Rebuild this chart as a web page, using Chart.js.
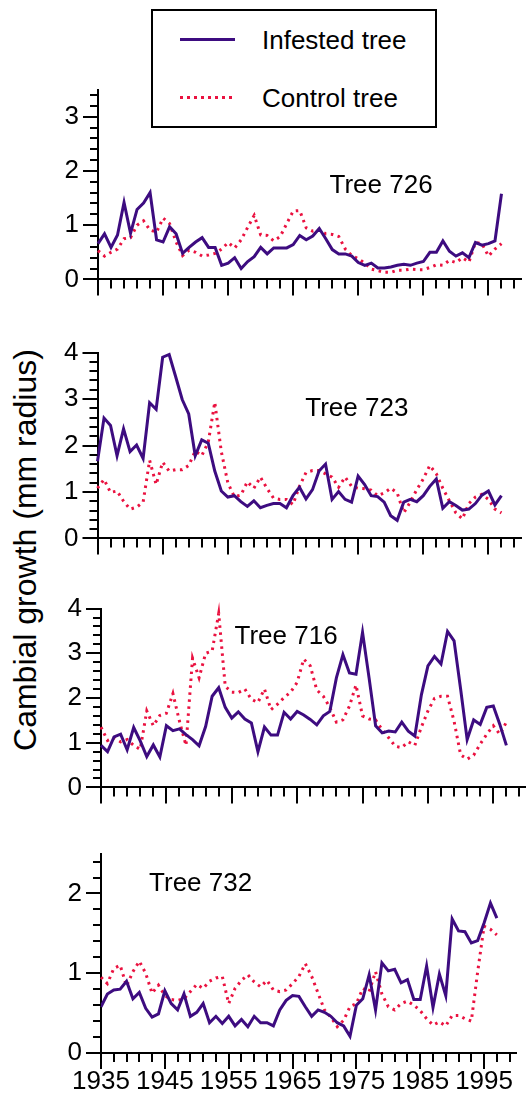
<!DOCTYPE html>
<html>
<head>
<meta charset="utf-8">
<script src="https://cdn.jsdelivr.net/npm/chart.js@4.4.1/dist/chart.umd.min.js"></script>
<style>
body { margin: 0; background: #fff; }
#wrap { position: relative; width: 526px; height: 1102px; overflow: hidden; font-family: "Liberation Sans", Arial, sans-serif; color: #000; }
canvas { position: absolute; left: 0; }
#legend { position: absolute; left: 151px; top: 9px; width: 286px; height: 119px; box-sizing: border-box; border: 2px solid #000; }
#legend .txt { position: absolute; left: 109px; font-size: 26px; line-height: 30px; white-space: nowrap; }
#legend .solid { position: absolute; left: 27px; width: 55px; height: 3px; background: #3d0c80; }
#legend .dots { position: absolute; left: 27px; width: 52px; height: 3px; background: repeating-linear-gradient(to right, #ea1240 0 3px, transparent 3px 7px); }
#ytitle { position: absolute; left: 25px; top: 550px; transform: translate(-50%, -50%) rotate(-90deg); white-space: nowrap; font-size: 32px; line-height: 36px; }
</style>
</head>
<body>
<div id="wrap">
  <div id="legend">
    <div class="solid" style="top:27px"></div>
    <div class="txt" style="top:14px">Infested tree</div>
    <div class="dots" style="top:85px"></div>
    <div class="txt" style="top:72px">Control tree</div>
  </div>
  <div id="ytitle">Cambial growth (mm radius)</div>
  <canvas id="p726"></canvas>
  <canvas id="p723"></canvas>
  <canvas id="p716"></canvas>
  <canvas id="p732"></canvas>
</div>
<script>
// years 1935-1997
const years = [1935,1936,1937,1938,1939,1940,1941,1942,1943,1944,
  1945,1946,1947,1948,1949,1950,1951,1952,1953,1954,
  1955,1956,1957,1958,1959,1960,1961,1962,1963,1964,
  1965,1966,1967,1968,1969,1970,1971,1972,1973,1974,
  1975,1976,1977,1978,1979,1980,1981,1982,1983,1984,
  1985,1986,1987,1988,1989,1990,1991,1992,1993,1994,
  1995,1996,1997];
const xTickLabels = [1935, 1945, 1955, 1965, 1975, 1985, 1995];

const infested726 = [0.66,0.84,0.59,0.82,1.42,0.85,1.29,1.41,1.60,0.73,
  0.69,0.97,0.84,0.48,0.59,0.69,0.77,0.59,0.59,0.26,
  0.30,0.40,0.20,0.33,0.42,0.59,0.47,0.58,0.58,0.58,
  0.64,0.81,0.73,0.80,0.94,0.75,0.55,0.47,0.47,0.43,
  0.31,0.26,0.30,0.21,0.21,0.23,0.26,0.28,0.26,0.30,
  0.33,0.50,0.50,0.71,0.52,0.43,0.49,0.40,0.68,0.63,
  0.66,0.71,1.58];
const control726 = [0.53,0.43,0.50,0.56,0.75,0.77,1.00,1.08,0.91,0.87,
  1.13,1.03,0.69,0.44,0.54,0.50,0.43,0.45,0.48,0.56,
  0.68,0.58,0.73,0.96,1.18,0.82,0.81,0.71,0.79,1.03,
  1.26,1.27,0.95,0.89,0.91,0.84,0.83,0.79,0.56,0.44,
  0.38,0.30,0.19,0.16,0.13,0.13,0.17,0.17,0.19,0.18,
  0.18,0.22,0.27,0.26,0.35,0.31,0.40,0.32,0.68,0.66,
  0.43,0.56,0.66];

const infested723 = [1.66,2.59,2.43,1.78,2.36,1.87,2.01,1.72,2.92,2.78,
  3.90,3.96,3.48,2.99,2.68,1.78,2.12,2.05,1.45,1.02,
  0.89,0.92,0.79,0.69,0.81,0.66,0.71,0.75,0.75,0.66,
  0.92,1.10,0.85,1.05,1.45,1.60,0.84,1.01,0.84,0.78,
  1.34,1.16,0.92,0.90,0.78,0.49,0.39,0.78,0.84,0.79,
  0.92,1.12,1.28,0.65,0.79,0.71,0.61,0.63,0.75,0.93,
  1.02,0.72,0.92];
const control723 = [1.08,1.27,0.99,1.02,0.80,0.63,0.67,0.78,1.68,1.16,
  1.64,1.45,1.48,1.48,1.57,1.88,1.78,2.07,2.93,1.87,
  1.20,0.90,0.93,1.22,1.08,1.32,1.08,0.87,0.84,0.84,
  0.73,1.12,1.42,1.46,1.46,1.39,1.32,1.10,1.32,1.12,
  1.08,1.07,1.04,0.92,0.98,1.08,0.98,0.55,0.78,1.05,
  1.28,1.57,1.39,1.08,0.81,0.55,0.42,0.75,0.89,0.95,
  0.84,0.63,0.55];

const infested716 = [0.94,0.80,1.13,1.19,0.84,1.34,1.04,0.69,0.95,0.68,
  1.38,1.27,1.31,1.18,1.07,0.93,1.36,2.04,2.23,1.79,
  1.55,1.69,1.53,1.44,0.80,1.35,1.17,1.17,1.68,1.53,
  1.70,1.62,1.52,1.40,1.60,1.70,2.45,2.97,2.56,2.53,
  3.47,2.45,1.38,1.22,1.26,1.24,1.46,1.26,1.15,2.07,
  2.72,2.93,2.76,3.49,3.28,2.20,1.07,1.51,1.41,1.79,
  1.82,1.41,0.94];
const control716 = [1.35,1.05,1.11,1.02,1.07,0.94,0.85,1.71,1.38,1.61,
  1.66,2.10,1.48,0.94,2.89,2.45,3.00,3.05,3.89,2.26,
  2.13,2.12,2.20,1.97,1.90,2.20,1.74,1.86,2.01,2.13,
  2.35,2.87,2.72,2.18,2.04,1.79,1.46,1.51,1.82,2.29,
  1.60,1.53,1.51,1.29,1.11,0.92,0.89,1.02,0.94,1.35,
  1.71,1.99,2.04,2.04,1.48,0.73,0.63,0.72,0.97,1.19,
  1.38,1.19,1.46];

const infested732 = [0.58,0.74,0.79,0.80,0.90,0.68,0.76,0.56,0.45,0.49,
  0.78,0.62,0.54,0.74,0.46,0.51,0.62,0.38,0.46,0.37,
  0.46,0.34,0.42,0.33,0.46,0.38,0.38,0.34,0.54,0.66,
  0.72,0.71,0.58,0.46,0.54,0.51,0.46,0.38,0.34,0.21,
  0.60,0.68,0.98,0.54,1.13,1.03,1.05,0.88,0.92,0.67,
  0.67,1.09,0.57,0.99,0.72,1.68,1.53,1.52,1.38,1.41,
  1.63,1.88,1.69];
const control732 = [0.95,0.87,1.06,1.10,0.84,1.02,1.15,1.00,0.75,0.85,
  0.72,0.67,0.66,0.68,0.77,0.86,0.81,0.90,0.94,0.96,
  0.62,0.81,0.91,0.98,0.89,0.83,0.91,0.79,0.77,0.79,
  0.87,0.96,1.12,0.96,0.75,0.54,0.45,0.33,0.41,0.58,
  0.62,0.81,0.77,1.02,0.74,0.58,0.54,0.62,0.65,0.60,
  0.53,0.43,0.35,0.39,0.34,0.47,0.47,0.43,0.40,1.02,
  1.59,1.55,1.48];

const INFESTED_COLOR = '#3d0c80';
const CONTROL_COLOR = '#ea1240';
const FONT = '"Liberation Sans", Arial, sans-serif';

// draws minor/major tick marks and the tree label
const panelMarks = {
  id: 'panelMarks',
  afterDraw(chart, args, opts) {
    const { ctx, chartArea } = chart;
    const x = chart.scales.x, y = chart.scales.y;
    ctx.save();
    ctx.strokeStyle = '#000';
    ctx.lineWidth = 2;
    ctx.beginPath();
    for (let yr = 1935; yr <= 1999; yr += 2) {
      const px = Math.round(x.getPixelForValue(yr));
      const len = (yr - 1935) % 10 === 0 ? 16 : 9;
      ctx.moveTo(px, chartArea.bottom);
      ctx.lineTo(px, chartArea.bottom + len);
    }
    for (let i = 0; i * 0.2 <= y.max + 1e-6; i++) {
      const py = Math.round(y.getPixelForValue(i * 0.2));
      const len = i % 5 === 0 ? 15 : 8;
      ctx.moveTo(chartArea.left, py);
      ctx.lineTo(chartArea.left - len, py);
    }
    ctx.stroke();
    ctx.fillStyle = '#000';
    ctx.font = '26px ' + FONT;
    ctx.textAlign = 'center';
    ctx.textBaseline = 'middle';
    ctx.fillText(opts.label, x.getPixelForValue(opts.at[0]), y.getPixelForValue(opts.at[1]));
    ctx.restore();
  }
};

const panels = [
  { id: 'p726', infested: infested726, control: control726, yMax: 3.5, yLabels: [0, 1, 2, 3],
    canvasTop: 55, areaTop: 70, areaBottom: 294, areaLeft: 98, areaRight: 521, xAxisHeight: 20,
    showYears: false, label: 'Tree 726', at: [1978.5, 1.73] },
  { id: 'p723', infested: infested723, control: control723, yMax: 4, yLabels: [0, 1, 2, 3, 4],
    canvasTop: 318, areaTop: 333, areaBottom: 553, areaLeft: 97.5, areaRight: 521, xAxisHeight: 20,
    showYears: false, label: 'Tree 723', at: [1974.8, 2.78] },
  { id: 'p716', infested: infested716, control: control716, yMax: 4, yLabels: [0, 1, 2, 3, 4],
    canvasTop: 574, areaTop: 589, areaBottom: 802, areaLeft: 101, areaRight: 526, xAxisHeight: 20,
    showYears: false, label: 'Tree 716', at: [1963.3, 3.36] },
  { id: 'p732', infested: infested732, control: control732, yMax: 2.5, yLabels: [0, 1, 2],
    canvasTop: 819, areaTop: 834, areaBottom: 1053, areaLeft: 101, areaRight: 526, xAxisHeight: 49,
    showYears: true, label: 'Tree 732', at: [1950.6, 2.12] }
];

function makePanel(p) {
  const cv = document.getElementById(p.id);
  const h = p.areaBottom - p.canvasTop + p.xAxisHeight;
  cv.width = 526;
  cv.height = h;
  cv.style.top = p.canvasTop + 'px';

  new Chart(cv, {
    type: 'line',
    data: {
      datasets: [
        {
          label: 'Infested tree',
          data: years.map((yr, i) => ({ x: yr, y: p.infested[i] })),
          borderColor: INFESTED_COLOR,
          borderWidth: 3,
          pointRadius: 0,
          tension: 0,
          clip: false
        },
        {
          label: 'Control tree',
          data: years.map((yr, i) => ({ x: yr, y: p.control[i] })),
          borderColor: CONTROL_COLOR,
          borderWidth: 3,
          borderDash: [2.5, 4.5],
          borderCapStyle: 'butt',
          pointRadius: 0,
          tension: 0,
          clip: false
        }
      ]
    },
    options: {
      responsive: false,
      animation: false,
      devicePixelRatio: 1,
      layout: {
        autoPadding: false,
        padding: { top: p.areaTop - p.canvasTop, right: 526 - p.areaRight, left: 0, bottom: 0 }
      },
      plugins: {
        legend: { display: false },
        tooltip: { enabled: false },
        panelMarks: { label: p.label, at: p.at }
      },
      scales: {
        x: {
          type: 'linear',
          min: 1935,
          max: 2000,
          grid: { drawOnChartArea: false, drawTicks: false },
          border: { display: true, color: '#000', width: 2 },
          afterBuildTicks: s => { s.ticks = xTickLabels.map(v => ({ value: v })); },
          afterFit: s => { s.height = p.xAxisHeight; },
          ticks: {
            display: p.showYears,
            autoSkip: false,
            maxRotation: 0,
            minRotation: 0,
            padding: 13,
            color: '#000',
            font: { family: FONT, size: 26 },
            callback: v => String(v)
          }
        },
        y: {
          min: 0,
          max: p.yMax,
          grid: { drawOnChartArea: false, drawTicks: false },
          border: { display: true, color: '#000', width: 2 },
          afterBuildTicks: s => { s.ticks = p.yLabels.map(v => ({ value: v })); },
          afterFit: s => { s.width = p.areaLeft; },
          ticks: {
            padding: 19,
            color: '#000',
            font: { family: FONT, size: 26 },
            callback: v => String(v)
          }
        }
      }
    },
    plugins: [panelMarks]
  });
}

panels.forEach(makePanel);
</script>
</body>
</html>
